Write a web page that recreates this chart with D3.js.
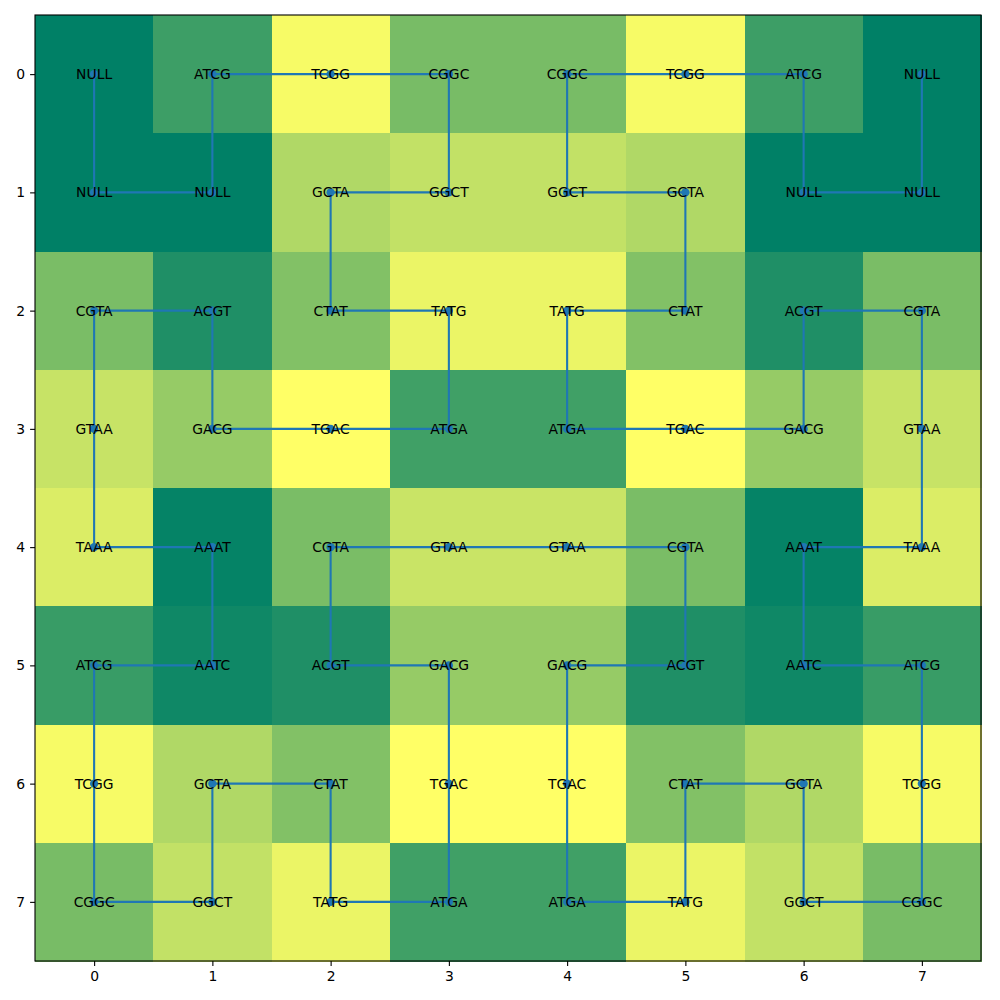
<!DOCTYPE html>
<html>
<head>
<meta charset="utf-8">
<script src="https://cdn.jsdelivr.net/npm/d3@7"></script>
<style>
body{margin:0;background:#fff;}
svg text{font-family:"DejaVu Sans",sans-serif;}
</style>
</head>
<body>
<div id="chart"></div>
<script>
//////////////////////データ//////////////////////
var rows=[0,1,2,3,4,5,6,7];
var cols=[0,1,2,3,4,5,6,7];
//セルのラベル
var labels=[
    ["NULL","ATCG","TCGG","CGGC","CGGC","TCGG","ATCG","NULL"],
    ["NULL","NULL","GCTA","GGCT","GGCT","GCTA","NULL","NULL"],
    ["CGTA","ACGT","CTAT","TATG","TATG","CTAT","ACGT","CGTA"],
    ["GTAA","GACG","TGAC","ATGA","ATGA","TGAC","GACG","GTAA"],
    ["TAAA","AAAT","CGTA","GTAA","GTAA","CGTA","AAAT","TAAA"],
    ["ATCG","AATC","ACGT","GACG","GACG","ACGT","AATC","ATCG"],
    ["TCGG","GCTA","CTAT","TGAC","TGAC","CTAT","GCTA","TCGG"],
    ["CGGC","GGCT","TATG","ATGA","ATGA","TATG","GGCT","CGGC"]
];
//セルの値（色）
var values=[
    [0.00,0.24,0.97,0.47,0.47,0.97,0.24,0.00],
    [0.00,0.00,0.69,0.76,0.76,0.69,0.00,0.00],
    [0.48,0.12,0.51,0.92,0.92,0.51,0.12,0.48],
    [0.78,0.59,1.00,0.25,0.25,1.00,0.59,0.78],
    [0.86,0.02,0.48,0.79,0.79,0.48,0.02,0.86],
    [0.22,0.06,0.12,0.59,0.59,0.12,0.06,0.22],
    [0.97,0.69,0.51,1.00,1.00,0.51,0.69,0.97],
    [0.47,0.76,0.92,0.25,0.25,0.92,0.76,0.47]
];
//経路（ヒルベルト曲線）
var path_col=[0,0,1,1,2,3,3,2,2,3,3,2,1,1,0,0,0,1,1,0,0,0,1,1,2,2,3,3,3,2,2,3,4,5,5,4,4,4,5,5,6,6,7,7,7,6,6,7,7,7,6,6,5,4,4,5,5,4,4,5,6,6,7,7];
var path_row=[0,1,1,0,0,0,1,1,2,2,3,3,3,2,2,3,4,4,5,5,6,7,7,6,6,7,7,6,5,5,4,4,4,4,5,5,6,7,7,6,6,7,7,6,5,5,4,4,3,2,2,3,3,3,2,2,1,1,0,0,0,1,1,0];
var ticks=[0,1,2,3,4,5,6,7];

//////////////////////描画//////////////////////
var W=1000,H=1000;
var x_min=35,x_max=981,y_min=15,y_max=961;
var svg=d3.select("#chart").append("svg").attr("width",W).attr("height",H);

var xScale=d3.scaleLinear().domain([-0.5,7.5]).range([x_min,x_max]);
var yScale=d3.scaleLinear().domain([-0.5,7.5]).range([y_min,y_max]);
var color=d3.scaleLinear().domain([0,1]).range(["#008066","#ffff66"]).interpolate(d3.interpolateRgb);

//セル
var cells=[];
rows.forEach(function(r){
    cols.forEach(function(c){
        cells.push({r:r,c:c,v:values[r][c],t:labels[r][c]});
    });
});
svg.append("g")
.selectAll("rect")
.data(cells)
.enter()
.append("rect")
.attr("x",function(d){return xScale(d.c-0.5);})
.attr("y",function(d){return yScale(d.r-0.5);})
.attr("width",xScale(1)-xScale(0)+0.5)
.attr("height",yScale(1)-yScale(0)+0.5)
.attr("fill",function(d){return color(d.v);})
.attr("shape-rendering","crispEdges");

//経路
var pts=path_col.map(function(c,i){return [c,path_row[i]];});
var line=d3.line().x(function(d){return xScale(d[0]);}).y(function(d){return yScale(d[1]);});
svg.append("path")
.datum(pts)
.attr("d",line)
.attr("fill","none")
.attr("stroke","#1f77b4")
.attr("stroke-width",2.1);
svg.append("g")
.selectAll("circle")
.data(pts)
.enter()
.append("circle")
.attr("cx",function(d){return xScale(d[0]);})
.attr("cy",function(d){return yScale(d[1]);})
.attr("r",4.2)
.attr("fill","#1f77b4");

//ラベル
svg.append("g")
.selectAll("text")
.data(cells)
.enter()
.append("text")
.attr("x",function(d){return xScale(d.c);})
.attr("y",function(d){return yScale(d.r);})
.attr("text-anchor","middle")
.attr("dominant-baseline","central")
.attr("font-size","13.9px")
.attr("fill","#000")
.text(function(d){return d.t;});

//軸
var xAxis=d3.axisBottom(xScale).tickValues(ticks).tickSize(4.9).tickPadding(4.9).tickFormat(d3.format("d"));
var yAxis=d3.axisLeft(yScale).tickValues(ticks).tickSize(4.9).tickPadding(4.9).tickFormat(d3.format("d"));
var gx=svg.append("g").attr("transform","translate(0,"+y_max+")").call(xAxis);
var gy=svg.append("g").attr("transform","translate("+x_min+",0)").call(yAxis);
[gx,gy].forEach(function(g){
    g.select(".domain").remove();
    g.selectAll("line").attr("stroke","#000").attr("stroke-width",1.1);
    g.selectAll("text").attr("font-size","13.9px").attr("fill","#000").attr("font-family","DejaVu Sans, sans-serif");
});

//枠
svg.append("rect")
.attr("x",x_min).attr("y",y_min)
.attr("width",x_max-x_min).attr("height",y_max-y_min)
.attr("fill","none").attr("stroke","#000").attr("stroke-width",1.1);
</script>
</body>
</html>
